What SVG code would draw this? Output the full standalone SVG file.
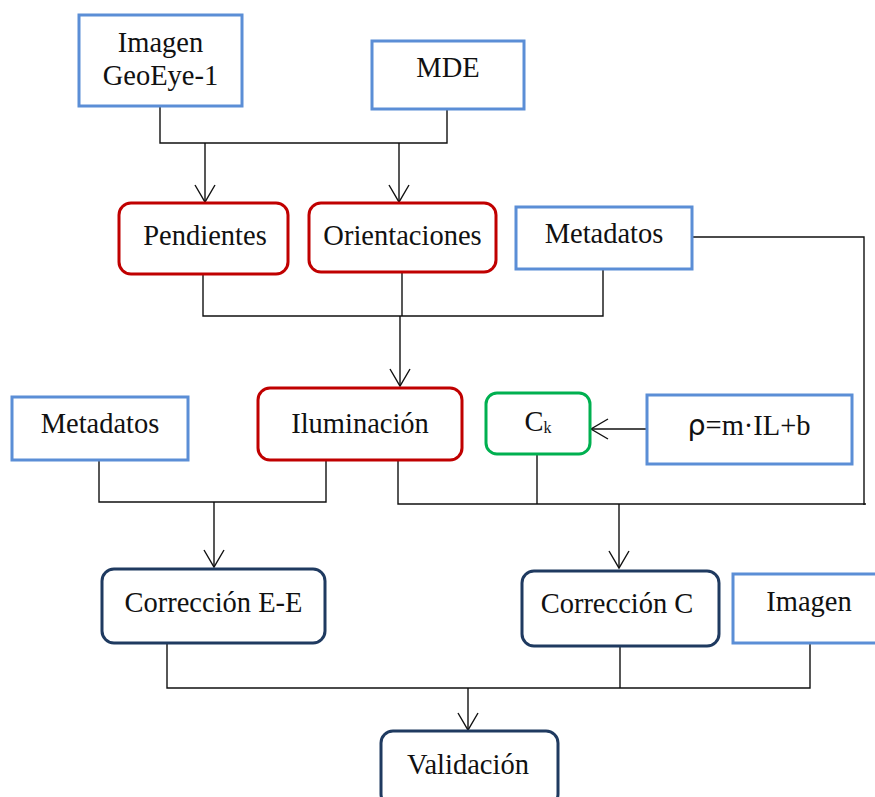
<svg xmlns="http://www.w3.org/2000/svg" width="875" height="797" viewBox="0 0 875 797">
<style>
.t{font-family:'Liberation Serif',serif;font-size:28.5px;fill:#111;text-anchor:middle}
.blue{fill:#fff;stroke:#5B8ED6;stroke-width:3}
.red{fill:#fff;stroke:#C00000;stroke-width:3}
.navy{fill:#fff;stroke:#1F3A60;stroke-width:3}
.green{fill:#fff;stroke:#00B050;stroke-width:3}
.c{fill:none;stroke:#111;stroke-width:1.4}
</style>
<defs>
<marker id="arr" markerUnits="userSpaceOnUse" markerWidth="20" markerHeight="24" viewBox="0 0 20 24" refX="18" refY="12" orient="auto">
<path d="M1,2 L18,12 L1,22" fill="none" stroke="#111" stroke-width="1.4"/>
</marker>
</defs>
<rect width="875" height="797" fill="#fff"/>
<g id="connectors">
<path class="c" d="M160,107 V143 H447 V109"/>
<path class="c" d="M205,143 V202" marker-end="url(#arr)"/>
<path class="c" d="M399,143 V202" marker-end="url(#arr)"/>
<path class="c" d="M203,274 V316 H603 V269"/>
<path class="c" d="M402,272 V316"/>
<path class="c" d="M400,316 V386" marker-end="url(#arr)"/>
<path class="c" d="M692,237 H864 V505"/>
<path class="c" d="M398,460 V504 H866"/>
<path class="c" d="M537,454 V504"/>
<path class="c" d="M619,504 V568" marker-end="url(#arr)"/>
<path class="c" d="M647,429 H591" marker-end="url(#arr)"/>
<path class="c" d="M99,460 V502 H326 V460"/>
<path class="c" d="M214,502 V567" marker-end="url(#arr)"/>
<path class="c" d="M167,643 V688 H810 V643"/>
<path class="c" d="M620,646 V688"/>
<path class="c" d="M468,688 V730" marker-end="url(#arr)"/>
</g>
<g id="imagen-geoeye">
<rect class="blue" x="79" y="15" width="163" height="91"/>
<text class="t" x="160.5" y="52">Imagen</text>
<text class="t" x="160.5" y="85">GeoEye-1</text>
</g>
<g id="mde">
<rect class="blue" x="372" y="41" width="152" height="68"/>
<text class="t" x="448" y="77">MDE</text>
</g>
<g id="pendientes">
<rect class="red" x="119" y="203" width="169" height="71" rx="12"/>
<text class="t" x="205" y="245">Pendientes</text>
</g>
<g id="orientaciones">
<rect class="red" x="309" y="203" width="187" height="69" rx="12"/>
<text class="t" x="402.5" y="245">Orientaciones</text>
</g>
<g id="metadatos-1">
<rect class="blue" x="516" y="207" width="176" height="62"/>
<text class="t" x="604" y="243">Metadatos</text>
</g>
<g id="iluminacion">
<rect class="red" x="258" y="388" width="204" height="72" rx="12"/>
<text class="t" x="360" y="433">Iluminación</text>
</g>
<g id="metadatos-2">
<rect class="blue" x="12" y="397" width="176" height="63"/>
<text class="t" x="100" y="433">Metadatos</text>
</g>
<g id="ck">
<rect class="green" x="486" y="393" width="104" height="61" rx="11"/>
<text class="t" x="538" y="431">C<tspan font-size="16" dy="2">k</tspan></text>
</g>
<g id="rho">
<rect class="blue" x="647" y="395" width="205" height="69"/>
<text class="t" x="749" y="435"><tspan style="font-family:'DejaVu Sans',sans-serif">ρ</tspan>=m·IL+b</text>
</g>
<g id="correccion-ee">
<rect class="navy" x="102" y="569" width="223" height="74" rx="12"/>
<text class="t" x="213.5" y="612">Corrección E-E</text>
</g>
<g id="correccion-c">
<rect class="navy" x="522" y="571" width="197" height="75" rx="12"/>
<text class="t" x="617" y="613">Corrección C</text>
</g>
<g id="imagen">
<rect class="blue" x="733" y="574" width="150" height="69"/>
<text class="t" x="809" y="611">Imagen</text>
</g>
<g id="validacion">
<rect class="navy" x="381" y="731" width="177" height="75" rx="12"/>
<text class="t" x="468" y="774">Validación</text>
</g>
</svg>
